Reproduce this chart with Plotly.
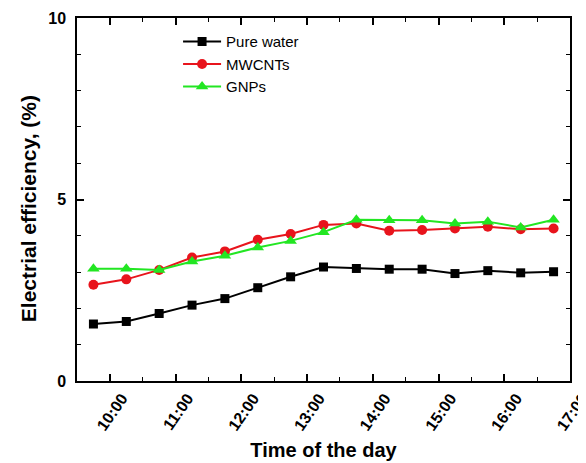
import plotly.graph_objects as go

time_hours = [9.75, 10.25, 10.75, 11.25, 11.75, 12.25, 12.75, 13.25, 13.75, 14.25, 14.75, 15.25, 15.75, 16.25, 16.75]
pure_water = [1.57, 1.64, 1.86, 2.09, 2.27, 2.57, 2.87, 3.14, 3.10, 3.08, 3.08, 2.96, 3.04, 2.98, 3.01]
mwcnts = [2.65, 2.80, 3.06, 3.40, 3.57, 3.89, 4.05, 4.30, 4.34, 4.14, 4.16, 4.20, 4.25, 4.18, 4.20]
gnps = [3.09, 3.09, 3.06, 3.29, 3.45, 3.68, 3.86, 4.10, 4.44, 4.43, 4.43, 4.34, 4.39, 4.23, 4.44]

tick_vals = [10, 11, 12, 13, 14, 15, 16, 17]
tick_text = ["10:00", "11:00", "12:00", "13:00", "14:00", "15:00", "16:00", "17:00"]

font_family = "Liberation Sans, Arial, sans-serif"

fig = go.Figure()
fig.add_trace(go.Scatter(x=time_hours, y=pure_water, name="Pure water", mode="lines+markers",
                         line=dict(color="black", width=2),
                         marker=dict(symbol="square", size=9, color="black")))
fig.add_trace(go.Scatter(x=time_hours, y=mwcnts, name="MWCNTs", mode="lines+markers",
                         line=dict(color="#e8141c", width=2),
                         marker=dict(symbol="circle", size=10, color="#e8141c")))
fig.add_trace(go.Scatter(x=time_hours, y=gnps, name="GNPs", mode="lines+markers",
                         line=dict(color="#22e622", width=2),
                         marker=dict(symbol="triangle-up", size=11, color="#22e622")))

fig.update_layout(
    width=586, height=463,
    margin=dict(l=69, r=24, t=10, b=90),
    paper_bgcolor="white", plot_bgcolor="white",
    font=dict(family=font_family, color="black"),
    showlegend=True,
    legend=dict(x=0.205, y=0.98, xanchor="left", yanchor="top",
                bgcolor="rgba(0,0,0,0)", font=dict(size=15, color="black"),
                tracegroupgap=0, itemwidth=38),
    xaxis=dict(range=[9.5, 17], tickmode="array", tickvals=tick_vals, ticktext=tick_text,
               tickangle=-55, ticks="inside", ticklen=7, tickwidth=1.5, tickcolor="black",
               ticklabelshift=12, ticklabelstandoff=0, automargin="bottom",
               showline=True, linecolor="black", linewidth=1.5, mirror="ticks",
               showgrid=False, zeroline=False,
               tickfont=dict(size=16, family=font_family, weight="bold"),
               minor=dict(ticks="inside", dtick=0.5, tick0=9.5, ticklen=4, tickwidth=1.2, tickcolor="black", showgrid=False),
               title=dict(text="<b>Time of the day</b>", font=dict(size=20), standoff=10)),
    yaxis=dict(range=[0, 10], tickvals=[0, 5, 10], ticks="inside", ticklen=7, tickwidth=1.5, tickcolor="black",
               ticklabelstandoff=6, automargin=False,
               showline=True, linecolor="black", linewidth=1.5, mirror="ticks",
               showgrid=False, zeroline=False,
               tickfont=dict(size=16, family=font_family, weight="bold"),
               minor=dict(ticks="inside", dtick=1, ticklen=4, tickwidth=1.2, tickcolor="black", showgrid=False)),
    annotations=[dict(text="<b>Electrial efficiency, (%)</b>", xref="paper", yref="paper",
                      x=-0.0994, y=0.476, xanchor="center", yanchor="middle", textangle=-90,
                      showarrow=False, font=dict(size=21, family=font_family, color="black"))],
)

fig.write_html("out.html")
